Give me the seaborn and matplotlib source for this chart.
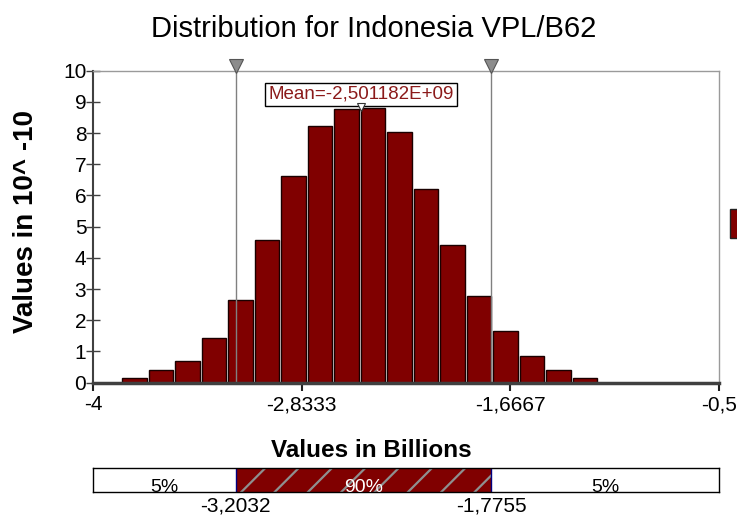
import numpy as np
import pandas as pd
import matplotlib
matplotlib.use("Agg")
import matplotlib.pyplot as plt
from matplotlib.patches import Rectangle
import seaborn as sns

# ---- data (values in billions, density in units of 1e-10) ----
title = "Distribution for Indonesia VPL/B62"
bin_start = -3.843
bin_width = 0.1482
density = [0.15, 0.41, 0.69, 1.44, 2.64, 4.56, 6.64, 8.24, 8.78,
           8.79, 8.03, 6.20, 4.41, 2.79, 1.66, 0.86, 0.42, 0.15]
mean_value = -2.501182
p5_value = -3.2032
p95_value = -1.7755
x_min, x_max = -4.0, -0.5
xtick_values = [-4.0, -2.8333, -1.6667, -0.5]
xtick_labels = ["-4", "-2,8333", "-1,6667", "-0,5"]
ytick_values = list(range(0, 11))
pct_labels = ["5%", "90%", "5%"]
pct_tick_labels = ["-3,2032", "-1,7755"]

MAROON = "#800000"

sns.set_theme(style="white")
plt.rcParams["font.family"] = ["Liberation Sans", "DejaVu Sans"]
plt.rcParams["text.color"] = "black"
plt.rcParams["axes.labelcolor"] = "black"
plt.rcParams["hatch.linewidth"] = 1.6

W, H = 737, 517
fig = plt.figure(figsize=(W / 100, H / 100), dpi=100)
fig.patch.set_facecolor("white")


def fx(px):
    return px / W


def fy(py):
    return 1 - py / H


# ---- main histogram ----
ax = fig.add_axes([fx(93.3), fy(382.7), fx(719) - fx(93.3), fy(70.7) - fy(382.7)])
edges = [bin_start + bin_width * k for k in range(len(density) + 1)]
centers = [(a + b) / 2 for a, b in zip(edges[:-1], edges[1:])]
df = pd.DataFrame({"value": centers, "density": density})
sns.histplot(data=df, x="value", weights="density", bins=edges, stat="count",
             color=MAROON, edgecolor="#1a0000", linewidth=1, alpha=1,
             shrink=0.93, ax=ax, zorder=2)
ax.set_xlim(x_min, x_max)
ax.set_ylim(0, 10)
ax.set_xlabel("")
ax.set_ylabel("")

ax.set_yticks(ytick_values)
ax.set_yticklabels([str(v) for v in ytick_values])
ax.set_xticks(xtick_values)
ax.set_xticklabels(xtick_labels)
ax.tick_params(axis="y", left=True, direction="inout", length=10, width=1,
               color="#404040", pad=0, labelsize=15, labelcolor="black")
ax.tick_params(axis="x", bottom=True, direction="out", length=6, width=1.5,
               color="#202020", pad=3, labelsize=15, labelcolor="black")

for side in ("top", "right"):
    ax.spines[side].set_color("#9a9a9a")
    ax.spines[side].set_linewidth(1)
ax.spines["left"].set_color("#404040")
ax.spines["left"].set_linewidth(1.5)
ax.spines["bottom"].set_color("#404040")
ax.spines["bottom"].set_linewidth(2.5)
ax.spines["bottom"].set_zorder(4)

# percentile delimiters with markers on top
for v in (p5_value, p95_value):
    ax.axvline(v, color="#808080", lw=1, zorder=3)
    ax.plot([v], [10.15], marker="v", ms=10, mfc="#8c8c8c", mec="#555555",
            mew=0.8, clip_on=False, zorder=6)

# mean label and marker
mean_text = "Mean=" + f"{mean_value * 1e9:.6E}".replace(".", ",")
ax.text(mean_value, 9.24, mean_text, ha="center", va="center",
        color="#8b1a1a", fontsize=13.5, zorder=7,
        bbox=dict(boxstyle="square,pad=0.18", fc="white", ec="black", lw=1))
ax.plot([mean_value], [8.85], marker="v", ms=6, mfc="white", mec="#333333",
        mew=0.8, zorder=8)

# ---- figure texts ----
fig.text(fx(374), fy(36.7), title, ha="center", va="baseline", fontsize=21,
         color="black")
fig.text(fx(33.3), fy(221.5), "Values in 10^ -10", rotation=90,
         rotation_mode="anchor", ha="center", va="baseline",
         fontsize=20, fontweight="bold", color="black")
fig.text(fx(371.5), fy(456.7), "Values in Billions", ha="center",
         va="baseline", fontsize=17.5, fontweight="bold", color="black")

# ---- percentile band ----
ax2 = fig.add_axes([fx(93.3), fy(492.3), fx(719) - fx(93.3), fy(468.3) - fy(492.3)])
lefts = [x_min, p5_value, p95_value]
rights = [p5_value, p95_value, x_max]
widths = [r - l for l, r in zip(lefts, rights)]
ax2.barh(0.5, widths[0], left=lefts[0], height=1, color="white", linewidth=0)
ax2.barh(0.5, widths[1], left=lefts[1], height=1, facecolor=MAROON,
         edgecolor="#8f8f8f", hatch="/", linewidth=0)
ax2.barh(0.5, widths[2], left=lefts[2], height=1, color="white", linewidth=0)
for v in (p5_value, p95_value):
    ax2.axvline(v, color="#000080", lw=1)
for l, r, lab in zip(lefts, rights, pct_labels):
    ax2.text((l + r) / 2, 0.03, lab, ha="center", va="baseline",
             fontsize=14, color="white" if lab == "90%" else "black")
ax2.set_xlim(x_min, x_max)
ax2.set_ylim(0, 1)
ax2.set_yticks([])
ax2.set_xticks([p5_value, p95_value])
ax2.set_xticklabels(pct_tick_labels)
ax2.tick_params(axis="x", bottom=True, length=0, pad=3.2, labelsize=15,
                labelcolor="black")
for side in ax2.spines.values():
    side.set_color("black")
    side.set_linewidth(1)

# legend swatch at the right edge of the canvas
fig.add_artist(Rectangle((fx(730), fy(238)), fx(20), fy(209) - fy(238),
                         transform=fig.transFigure, facecolor=MAROON,
                         edgecolor="#222222", lw=1))

fig.savefig("out.png", dpi=100)
